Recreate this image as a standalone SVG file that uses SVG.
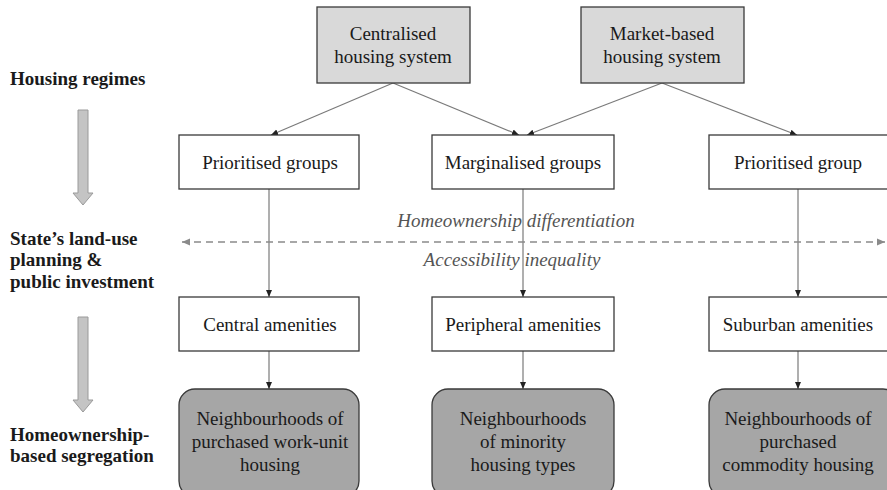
<svg xmlns="http://www.w3.org/2000/svg" width="887" height="490" viewBox="0 0 887 490">
<defs>
<marker id="ah" markerWidth="8" markerHeight="8" refX="7" refY="4" orient="auto" markerUnits="userSpaceOnUse">
<path d="M0,1 L7,4 L0,7 Z" fill="#222"/>
</marker>
<marker id="dh" markerWidth="9" markerHeight="8" refX="8" refY="4" orient="auto-start-reverse" markerUnits="userSpaceOnUse">
<path d="M0,0.5 L8,4 L0,7.5 Z" fill="#8a8a8a"/>
</marker>
</defs>
<style>
text{font-family:'Liberation Serif','DejaVu Serif',serif;fill:#1a1a1a}
.lbl{font-size:19px;font-weight:bold}
.bt{font-size:19px;text-anchor:middle}
.it{font-size:19px;font-style:italic;fill:#555;text-anchor:middle}
.top{fill:#d9d9d9;stroke:#3a3a3a;stroke-width:1.3}
.mid{fill:#fff;stroke:#3a3a3a;stroke-width:1.3}
.bot{fill:#a6a6a6;stroke:#3a3a3a;stroke-width:1.3}
.con{stroke:#7a7a7a;stroke-width:1.2;fill:none;marker-end:url(#ah)}
.big{fill:#c4c4c4;stroke:#9a9a9a;stroke-width:1}
</style>
<rect width="887" height="490" fill="#fff"/>

<g id="labels">
<text class="lbl" x="10" y="85">Housing regimes</text>
<text class="lbl" x="10" y="245">State’s land-use</text>
<text class="lbl" x="10" y="266">planning &amp;</text>
<text class="lbl" x="10" y="288">public investment</text>
<text class="lbl" x="10" y="441">Homeownership-</text>
<text class="lbl" x="10" y="462">based segregation</text>
</g>
<g id="stage-arrows">
<path class="big" d="M78,110 H88 V193 H93 L83,205 L73,193 H78 Z"/>
<path class="big" d="M78,317 H88 V400 H93 L83,412 L73,400 H78 Z"/>
</g>

<g id="connectors">
<line class="con" x1="393" y1="83" x2="271" y2="135"/>
<line class="con" x1="393" y1="83" x2="519" y2="135"/>
<line class="con" x1="662" y1="83" x2="527" y2="135"/>
<line class="con" x1="662" y1="83" x2="797" y2="135"/>
<line class="con" x1="269" y1="189" x2="269" y2="297"/>
<line class="con" x1="523" y1="189" x2="523" y2="297"/>
<line class="con" x1="798" y1="189" x2="798" y2="297"/>
<line class="con" x1="269" y1="351" x2="269" y2="389"/>
<line class="con" x1="523" y1="351" x2="523" y2="389"/>
<line class="con" x1="798" y1="351" x2="798" y2="389"/>
<line x1="182" y1="242" x2="885" y2="242" stroke="#8a8a8a" stroke-width="1.6" stroke-dasharray="7,5" marker-start="url(#dh)" marker-end="url(#dh)"/>
<text class="it" x="516" y="227">Homeownership differentiation</text>
<text class="it" x="512" y="266">Accessibility inequality</text>
</g>

<g id="centralised">
<rect class="top" x="317" y="7" width="153" height="76"/>
<text class="bt" x="393" y="40">Centralised</text>
<text class="bt" x="393" y="63">housing system</text>
</g>
<g id="market">
<rect class="top" x="581" y="7" width="163" height="76"/>
<text class="bt" x="662" y="40">Market-based</text>
<text class="bt" x="662" y="63">housing system</text>
</g>

<g id="prioritised-groups">
<rect class="mid" x="179" y="135" width="180" height="54"/>
<text class="bt" x="270" y="169">Prioritised groups</text>
</g>
<g id="marginalised-groups">
<rect class="mid" x="432" y="135" width="182" height="54"/>
<text class="bt" x="523" y="169">Marginalised groups</text>
</g>
<g id="prioritised-group">
<rect class="mid" x="709" y="135" width="190" height="54"/>
<text class="bt" x="798" y="169">Prioritised group</text>
</g>

<g id="central-amenities">
<rect class="mid" x="179" y="297" width="180" height="54"/>
<text class="bt" x="270" y="331">Central amenities</text>
</g>
<g id="peripheral-amenities">
<rect class="mid" x="432" y="297" width="182" height="54"/>
<text class="bt" x="523" y="331">Peripheral amenities</text>
</g>
<g id="suburban-amenities">
<rect class="mid" x="709" y="297" width="190" height="54"/>
<text class="bt" x="798" y="331">Suburban amenities</text>
</g>

<g id="work-unit">
<rect class="bot" x="179" y="389" width="180" height="108" rx="16"/>
<text class="bt" x="270" y="425">Neighbourhoods of</text>
<text class="bt" x="270" y="448">purchased work-unit</text>
<text class="bt" x="270" y="471">housing</text>
</g>
<g id="minority">
<rect class="bot" x="432" y="389" width="182" height="108" rx="16"/>
<text class="bt" x="523" y="425">Neighbourhoods</text>
<text class="bt" x="523" y="448">of minority</text>
<text class="bt" x="523" y="471">housing types</text>
</g>
<g id="commodity">
<rect class="bot" x="709" y="389" width="190" height="108" rx="16"/>
<text class="bt" x="798" y="425">Neighbourhoods of</text>
<text class="bt" x="798" y="448">purchased</text>
<text class="bt" x="798" y="471">commodity housing</text>
</g>
</svg>
